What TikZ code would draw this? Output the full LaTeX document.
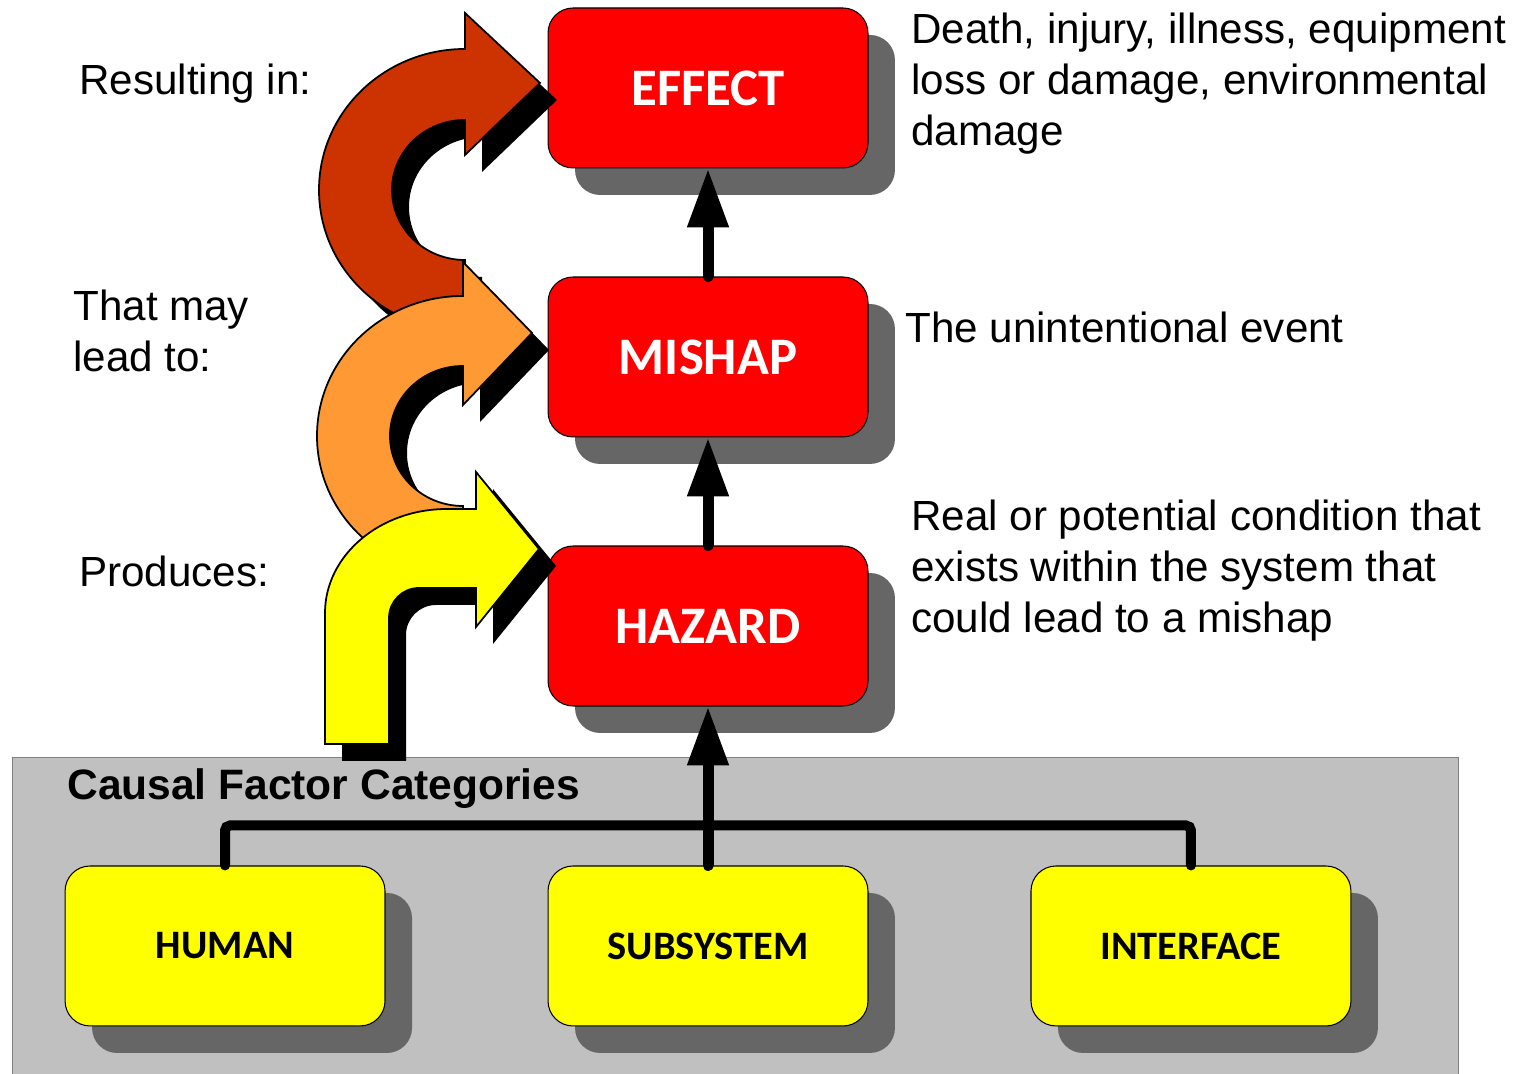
\documentclass[tikz,border=0pt]{standalone}
\usepackage{fontspec}
\setmainfont{Liberation Sans}
\newfontfamily\calfont{Carlito}
\usepackage{xcolor}
\definecolor{chainRed}{HTML}{FF0000}
\definecolor{factorYellow}{HTML}{FFFF00}
\definecolor{effectBrown}{HTML}{CC3300}
\definecolor{mishapOrange}{HTML}{FF9933}
\definecolor{shadeGray}{HTML}{666666}
\definecolor{panelGray}{HTML}{C0C0C0}
\definecolor{panelBorder}{HTML}{808080}
\usetikzlibrary{arrows.meta,positioning,shadows}
\tikzset{
    chainbox/.style={
        draw=black,
        fill=chainRed,
        rectangle,
        rounded corners=0.5cm,
        minimum width=6.4cm,
        minimum height=3.2cm,
        line width=0.6pt,
        drop shadow={shadow xshift=0.54cm, shadow yshift=-0.54cm, fill=shadeGray, opacity=1},
        text=white,
        font=\calfont\bfseries\fontsize{30}{36}\selectfont
    },
    factorbox/.style={
        chainbox,
        fill=factorYellow,
        text=black,
        font=\calfont\bfseries\fontsize{23}{28}\selectfont
    },
    note/.style={
        anchor=west,
        align=left,
        inner sep=0pt,
        font=\fontsize{24}{29}\selectfont
    },
    flow/.style={
        -{Triangle[length=1.18cm,width=0.78cm]},
        line width=0.22cm,
        line cap=round
    },
    bus/.style={
        line width=0.2cm,
        line cap=round,
        rounded corners=0.1cm
    },
    bendarrow/.style={
        draw=black,
        line width=1pt,
        drop shadow={shadow xshift=0.34cm, shadow yshift=-0.34cm, fill=black, opacity=1}
    }
}

\begin{document}
\begin{tikzpicture}[x=0.02cm, y=0.02cm]
    \useasboundingbox (0,0) rectangle (1528,1074);

    % Causal factor panel
    \path[draw=panelBorder, fill=panelGray] (12,-10) rectangle (1458,317);
    \node[anchor=west, inner sep=0pt, font=\bfseries\fontsize{24.2}{29}\selectfont] (cfc) at (67,285) {Causal Factor Categories};

    % Hazard chain
    \node[chainbox] (effect) at (708,986) {EFFECT};
    \node[chainbox, below=2.16cm of effect] (mishap) {MISHAP};
    \node[chainbox, below=2.16cm of mishap] (hazard) {HAZARD};

    % Causal factors
    \node[factorbox, below=3.18cm of hazard] (subsystem) {SUBSYSTEM};
    \node[factorbox, left=3.24cm of subsystem] (human) {HUMAN};
    \node[factorbox, right=3.24cm of subsystem] (interface) {INTERFACE};

    % Arrows
    \draw[bus] (human.north) -- ++(0,40) -| (interface.north);
    \draw[flow] (subsystem.north) -- (hazard.south);
    \draw[flow] (hazard.north) -- (mishap.south);
    \draw[flow] (mishap.north) -- (effect.south);

    % Bent arrows
    \path[bendarrow, fill=effectBrown] (465,743) arc[start angle=-90, end angle=-270, x radius=146, y radius=141]
        -- (465,1061) -- (540,991) -- (465,919) -- (465,954)
        arc[start angle=90, end angle=270, x radius=73, y radius=70] -- cycle;
    \path[bendarrow, fill=mishapOrange] (463,498) arc[start angle=-90, end angle=-270, x radius=146, y radius=140]
        -- (463,812) -- (532,741) -- (463,669) -- (463,708)
        arc[start angle=90, end angle=270, x radius=73, y radius=70] -- cycle;
    \path[bendarrow, fill=factorYellow] (325,330) -- (325,461)
        arc[start angle=180, end angle=90, x radius=122, y radius=104]
        -- (476,565) -- (476,602) -- (539,525) -- (476,447) -- (476,486) -- (419,486)
        arc[start angle=90, end angle=180, radius=30] -- (389,330) -- cycle;

    % Labels
    \node[note] (resulting) at (79,990) {Resulting in:};
    \node[note] (maylead) at (73,743) {That may\\lead to:};
    \node[note] (produces) at (79,503) {Produces:};
    \node[note] (effectnote) at (911,990) {Death, injury, illness, equipment\\loss or damage, environmental\\damage};
    \node[note] (mishapnote) at (905,747) {The unintentional event};
    \node[note] (hazardnote) at (911,503) {Real or potential condition that\\exists within the system that\\could lead to a mishap};
\end{tikzpicture}
\end{document}
